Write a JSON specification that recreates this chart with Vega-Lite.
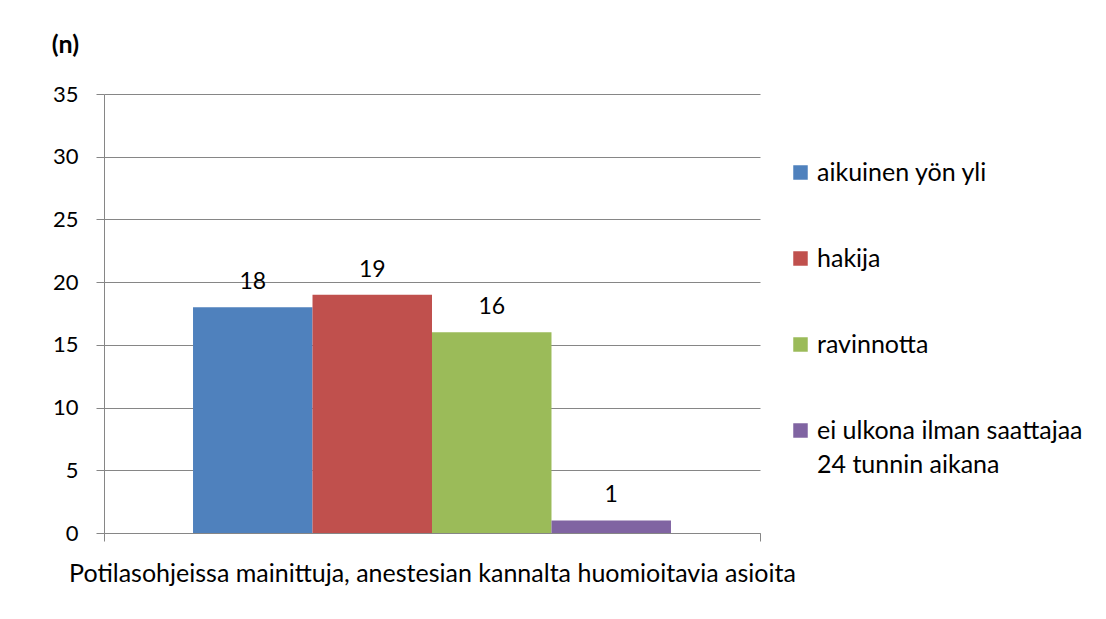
{
  "$schema": "https://vega.github.io/schema/vega-lite/v6.json",
  "width": 656,
  "height": 439,
  "autosize": {"type": "none"},
  "padding": {"left": 104, "top": 94, "right": 346, "bottom": 86},
  "background": "white",
  "config": {
    "font": "Lato",
    "view": {"stroke": null},
    "style": {"guide-label": {"lineHeight": 34}}
  },
  "data": {
    "values": [
      {"category": "Potilasohjeissa mainittuja, anestesian kannalta huomioitavia asioita", "series": "aikuinen yön yli", "n": 18},
      {"category": "Potilasohjeissa mainittuja, anestesian kannalta huomioitavia asioita", "series": "hakija", "n": 19},
      {"category": "Potilasohjeissa mainittuja, anestesian kannalta huomioitavia asioita", "series": "ravinnotta", "n": 16},
      {"category": "Potilasohjeissa mainittuja, anestesian kannalta huomioitavia asioita", "series": "ei ulkona ilman saattajaa 24 tunnin aikana", "n": 1}
    ]
  },
  "encoding": {
    "x": {
      "field": "category",
      "type": "nominal",
      "scale": {"paddingInner": 0, "paddingOuter": 0},
      "axis": {
        "title": null,
        "labelAngle": 0,
        "labelFont": "Lato",
        "labelFontSize": 25,
        "labelColor": "#000000",
        "labelLimit": 0,
        "labelPadding": 20,
        "labelBaseline": "top",
        "tickBand": "extent",
        "tickSize": 8,
        "tickColor": "#868686",
        "domainColor": "#868686",
        "grid": false
      }
    },
    "xOffset": {
      "field": "series",
      "type": "nominal",
      "sort": ["aikuinen yön yli", "hakija", "ravinnotta", "ei ulkona ilman saattajaa 24 tunnin aikana"],
      "scale": {"paddingInner": 0, "paddingOuter": 0.745}
    },
    "y": {
      "field": "n",
      "type": "quantitative",
      "scale": {"domain": [0, 35], "nice": false},
      "axis": {
        "values": [0, 5, 10, 15, 20, 25, 30, 35],
        "title": "(n)",
        "titleAngle": 0,
        "titleX": -39,
        "titleY": -50,
        "titleAlign": "center",
        "titleBaseline": "middle",
        "titleFont": "Lato",
        "titleFontSize": 25,
        "titleFontWeight": "bold",
        "titleColor": "#000000",
        "labelFont": "Lato",
        "labelFontSize": 22,
        "labelColor": "#000000",
        "labelPadding": 18,
        "tickSize": 8,
        "tickColor": "#868686",
        "domainColor": "#868686",
        "gridColor": "#868686",
        "gridWidth": 1
      }
    }
  },
  "layer": [
    {
      "mark": {"type": "bar"},
      "encoding": {
        "color": {
          "field": "series",
          "type": "nominal",
          "sort": ["aikuinen yön yli", "hakija", "ravinnotta", "ei ulkona ilman saattajaa 24 tunnin aikana"],
          "scale": {
            "domain": ["aikuinen yön yli", "hakija", "ravinnotta", "ei ulkona ilman saattajaa 24 tunnin aikana"],
            "range": ["#4F81BD", "#C0504D", "#9BBB59", "#8064A2"]
          },
          "legend": {
            "title": null,
            "orient": "none",
            "legendX": 684,
            "legendY": 66,
            "padding": 0,
            "symbolType": "square",
            "symbolSize": 210,
            "symbolStrokeWidth": 0,
            "symbolOpacity": 1,
            "labelFont": "Lato",
            "labelFontSize": 25,
            "labelColor": "#000000",
            "labelOffset": 4,
            "labelLimit": 0,
            "rowPadding": 60,
            "labelExpr": "datum.label == 'ei ulkona ilman saattajaa 24 tunnin aikana' ? ['ei ulkona ilman saattajaa', '24 tunnin aikana'] : datum.label"
          }
        }
      }
    },
    {
      "mark": {"type": "text", "baseline": "alphabetic", "dy": -18, "font": "Lato", "fontSize": 23, "color": "#000000"},
      "encoding": {
        "text": {"field": "n", "type": "quantitative"}
      }
    }
  ]
}
